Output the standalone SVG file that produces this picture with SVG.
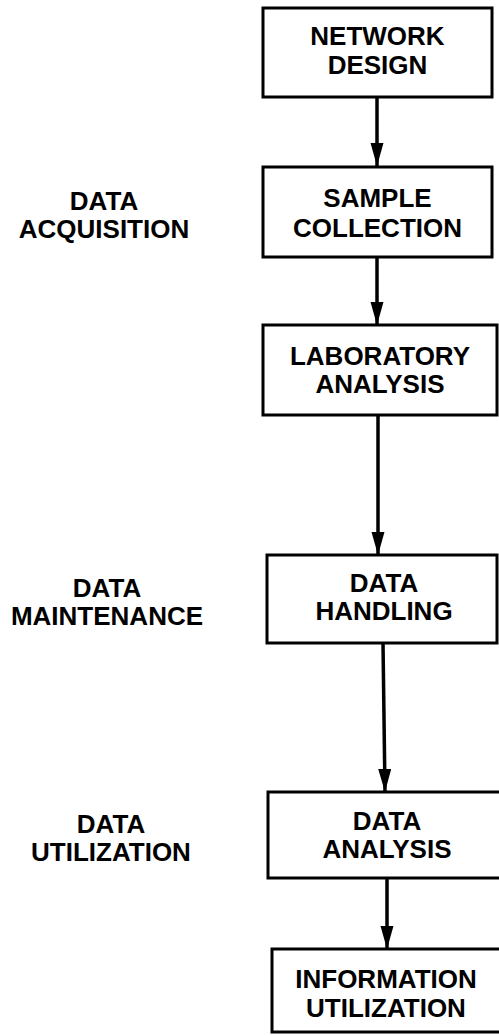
<svg xmlns="http://www.w3.org/2000/svg" width="499" height="1036" viewBox="0 0 499 1036">
<style>
.box{fill:#fff;stroke:#000;stroke-width:3}
.t{font-family:"Liberation Sans",Arial,sans-serif;font-weight:bold;font-size:26px;fill:#000;text-anchor:middle}
.c{stroke:#000;stroke-width:3.5;fill:none}
</style>
<defs>
<marker id="ah" markerUnits="userSpaceOnUse" markerWidth="24" markerHeight="14" refX="23" refY="6.5" orient="auto">
<path d="M0,0 L23,6.5 L0,13 Z" fill="#000"/>
</marker>
</defs>
<rect width="499" height="1036" fill="#fff"/>
<g id="connectors">
<line class="c" x1="377" y1="97" x2="377" y2="166" marker-end="url(#ah)"/>
<line class="c" x1="377" y1="257" x2="377" y2="325" marker-end="url(#ah)"/>
<line class="c" x1="378" y1="415" x2="378" y2="555" marker-end="url(#ah)"/>
<line class="c" x1="383" y1="643" x2="385" y2="792" marker-end="url(#ah)"/>
<line class="c" x1="387" y1="878" x2="387" y2="949" marker-end="url(#ah)"/>
</g>
<g id="network-design">
<rect class="box" x="263" y="8" width="229" height="89"/>
<text class="t" x="377.5" y="45">NETWORK</text>
<text class="t" x="377.5" y="74">DESIGN</text>
</g>
<g id="sample-collection">
<rect class="box" x="263" y="167" width="229" height="90"/>
<text class="t" x="377.5" y="207">SAMPLE</text>
<text class="t" x="377.5" y="237">COLLECTION</text>
</g>
<g id="laboratory-analysis">
<rect class="box" x="263" y="325" width="234" height="90"/>
<text class="t" x="380" y="365">LABORATORY</text>
<text class="t" x="380" y="393">ANALYSIS</text>
</g>
<g id="data-handling">
<rect class="box" x="267" y="555" width="230" height="88"/>
<text class="t" x="384" y="592">DATA</text>
<text class="t" x="384" y="620">HANDLING</text>
</g>
<g id="data-analysis">
<rect class="box" x="268" y="792" width="236" height="86"/>
<text class="t" x="387" y="830">DATA</text>
<text class="t" x="387" y="858">ANALYSIS</text>
</g>
<g id="information-utilization">
<rect class="box" x="272" y="949" width="232" height="83"/>
<text class="t" x="386" y="988">INFORMATION</text>
<text class="t" x="386" y="1017">UTILIZATION</text>
</g>
<g id="label-acquisition">
<text class="t" x="104" y="210">DATA</text>
<text class="t" x="104" y="238">ACQUISITION</text>
</g>
<g id="label-maintenance">
<text class="t" x="107" y="597">DATA</text>
<text class="t" x="107" y="625">MAINTENANCE</text>
</g>
<g id="label-utilization">
<text class="t" x="111" y="833">DATA</text>
<text class="t" x="111" y="861">UTILIZATION</text>
</g>
</svg>
